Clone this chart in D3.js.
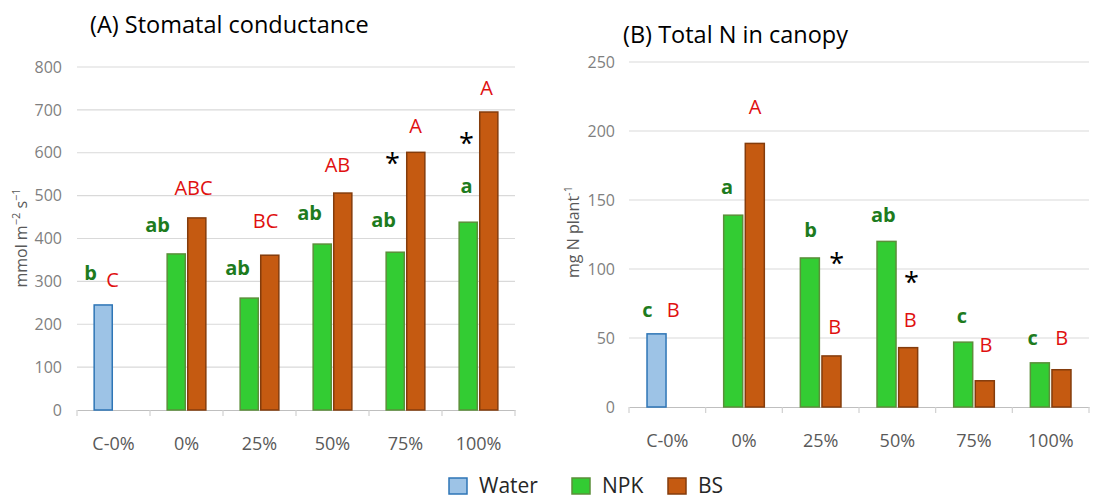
<!DOCTYPE html>
<html>
<head>
<meta charset="utf-8">
<script src="https://cdn.jsdelivr.net/npm/d3@7"></script>
<style>
  body { margin: 0; background: #fff; }
  text { font-family: "Open Sans", sans-serif; }
</style>
</head>
<body>
<script>
// categories and series
const categories = ["C-0%", "0%", "25%", "50%", "75%", "100%"];
const series = ["NPK", "BS"];

// (A) stomatal conductance, mmol m-2 s-1 (C-0% NPK slot is the Water control)
const stomaNPK = [245, 364, 261, 387, 368, 438];
const stomaBS  = [null, 448, 361, 506, 601, 695];
const stomaTicks = [0, 100, 200, 300, 400, 500, 600, 700, 800];

// (B) total N in canopy, mg N plant-1
const nitroNPK = [53, 139, 108, 120, 47, 32];
const nitroBS  = [null, 191, 37, 43, 19, 27];
const nitroTicks = [0, 50, 100, 150, 200, 250];

// significance letters: [category, text, y in data units, kind]
const lettersA = [
  ["C-0%", "b", 303, "npk"], ["C-0%", "C", 287, "bs"],
  ["0%", "ab", 415, "npk"], ["0%", "ABC", 501, "bs"],
  ["25%", "ab", 315, "npk"], ["25%", "BC", 424, "bs"],
  ["50%", "ab", 443, "npk"], ["50%", "AB", 555, "bs"],
  ["75%", "ab", 427, "npk"], ["75%", "*", 578, "star"], ["75%", "A", 646, "bs"],
  ["100%", "a", 506, "npk"], ["100%", "*", 623, "star"], ["100%", "A", 735, "bs"]
];
const lettersB = [
  ["C-0%", "c", 65, "npk"], ["C-0%", "B", 65, "bs"],
  ["0%", "a", 154, "npk"], ["0%", "A", 212, "bs"],
  ["25%", "b", 123, "npk"], ["25%", "*", 105, "star"], ["25%", "B", 53, "bs"],
  ["50%", "ab", 134, "npk"], ["50%", "*", 91, "star"], ["50%", "B", 58, "bs"],
  ["75%", "c", 61, "npk"], ["75%", "B", 40, "bs"],
  ["100%", "c", 45, "npk"], ["100%", "B", 45, "bs"]
];
// horizontal nudges of the letters (px from the category centre)
const nudgeA = [-23, -1, -29, 7, -22, 6, -23, 5, -22, -13, 10, -12, -12, 8];
const nudgeB = [-20, 6, -17, 11, -10, 16, 14, -14, 14, 13, -12, 12, -18, 11];

const colors = {
  Water: {fill: "#9dc3e6", stroke: "#2e75b6"},
  NPK:   {fill: "#33cc33", stroke: "#5b8f3a"},
  BS:    {fill: "#c55a11", stroke: "#843c0c"}
};
const letterColor = {npk: "#1e7b1e", bs: "#e01010", star: "#000"};

const svg = d3.select("body").append("svg")
  .attr("width", 1099)
  .attr("height", 499);

function drawPanel(opt) {
  const g = svg.append("g");

  const y = d3.scaleLinear().domain(opt.domain).range([opt.bottom, opt.top]);
  const x = d3.scaleBand().domain(categories).range([opt.left, opt.right]);
  const bw = x.bandwidth();
  const xs = d3.scaleBand().domain(series)
    .range([bw * 0.235, bw * 0.765]).paddingInner(0.12);

  // gridlines
  g.selectAll(".grid").data(opt.ticks.slice(1)).enter().append("line")
    .attr("x1", opt.left).attr("x2", opt.right)
    .attr("y1", d => y(d)).attr("y2", d => y(d))
    .attr("stroke", "#d9d9d9").attr("stroke-width", 1.2);

  // y axis labels
  const yAxis = d3.axisLeft(y).tickValues(opt.ticks).tickSize(0).tickPadding(0);
  const ya = g.append("g")
    .attr("transform", `translate(${opt.left - opt.yLabelGap},0)`)
    .call(yAxis);
  ya.select(".domain").remove();
  ya.selectAll("text").attr("fill", "#7f7f7f").style("font-size", "16px")
    .style("font-family", "Open Sans");

  // x axis
  const xAxis = d3.axisBottom(x).tickSize(0).tickPadding(opt.xPad);
  const xa = g.append("g")
    .attr("transform", `translate(0,${opt.bottom})`)
    .call(xAxis);
  xa.select(".domain").attr("stroke", "#bfbfbf").attr("stroke-width", 1.2);
  xa.selectAll("text").attr("fill", "#595959").style("font-size", "18px")
    .style("font-family", "Open Sans");
  // category separator ticks
  g.selectAll(".sep").data(categories.concat(["end"])).enter().append("line")
    .attr("x1", (d, i) => opt.left + i * bw).attr("x2", (d, i) => opt.left + i * bw)
    .attr("y1", opt.bottom).attr("y2", opt.bottom + 6)
    .attr("stroke", "#d0d0d0").attr("stroke-width", 1.2);

  // bars
  const rows = [];
  categories.forEach((c, i) => {
    rows.push({cat: c, key: "NPK", color: i === 0 ? colors.Water : colors.NPK, v: opt.npk[i]});
    rows.push({cat: c, key: "BS", color: colors.BS, v: opt.bs[i]});
  });
  g.selectAll(".bar").data(rows.filter(d => d.v != null)).enter().append("rect")
    .attr("x", d => x(d.cat) + xs(d.key))
    .attr("width", xs.bandwidth())
    .attr("y", d => y(d.v))
    .attr("height", d => y(0) - y(d.v))
    .attr("fill", d => d.color.fill)
    .attr("stroke", d => d.color.stroke)
    .attr("stroke-width", 1.5);

  // significance letters
  g.selectAll(".letter").data(opt.letters).enter().append("text")
    .attr("x", (d, i) => x(d[0]) + bw / 2 + opt.nudge[i])
    .attr("y", d => y(d[2]))
    .attr("text-anchor", "middle")
    .attr("dominant-baseline", d => d[3] === "star" ? "central" : "auto")
    .attr("fill", d => letterColor[d[3]])
    .style("font-size", d => d[3] === "star" ? "27px" : "20px")
    .style("font-weight", d => d[3] === "npk" ? "700" : "400")
    .text(d => d[1]);

  // title
  g.append("text")
    .attr("x", opt.titleX).attr("y", opt.titleY)
    .attr("fill", "#000").style("font-size", "23.5px")
    .text(opt.title);

  // y title
  const yt = g.append("text")
    .attr("transform", `translate(${opt.yTitleX},${opt.yTitleY}) rotate(-90)`)
    .attr("text-anchor", "middle")
    .attr("fill", "#595959").style("font-size", "16px");
  opt.yTitle.forEach(p => {
    yt.append("tspan")
      .attr("baseline-shift", p.sup ? "super" : null)
      .style("font-size", p.sup ? "11px" : null)
      .text(p.t);
  });
}

drawPanel({
  domain: [0, 800], ticks: stomaTicks, npk: stomaNPK, bs: stomaBS,
  letters: lettersA, nudge: nudgeA,
  left: 77, right: 515, top: 67, bottom: 410,
  yLabelGap: 15, xPad: 27,
  title: "(A) Stomatal conductance", titleX: 90, titleY: 33,
  yTitleX: 27, yTitleY: 238,
  yTitle: [{t: "mmol m"}, {t: "−2", sup: true}, {t: " s"}, {t: "−1", sup: true}]
});

drawPanel({
  domain: [0, 250], ticks: nitroTicks, npk: nitroNPK, bs: nitroBS,
  letters: lettersB, nudge: nudgeB,
  left: 629, right: 1089, top: 62, bottom: 407,
  yLabelGap: 14, xPad: 27,
  title: "(B) Total N in canopy", titleX: 623, titleY: 43,
  yTitleX: 579, yTitleY: 232,
  yTitle: [{t: "mg N plant"}, {t: "-1", sup: true}]
});

// legend
const legendItems = ["Water", "NPK", "BS"];
const legendX = [449, 572, 668];
const legend = svg.append("g");
legendItems.forEach((k, i) => {
  legend.append("rect")
    .attr("x", legendX[i]).attr("y", 478)
    .attr("width", 18).attr("height", 16)
    .attr("fill", colors[k].fill).attr("stroke", colors[k].stroke).attr("stroke-width", 1.5);
  legend.append("text")
    .attr("x", legendX[i] + 30).attr("y", 493)
    .attr("fill", "#262626").style("font-size", "21px")
    .text(k);
});
</script>
</body>
</html>
